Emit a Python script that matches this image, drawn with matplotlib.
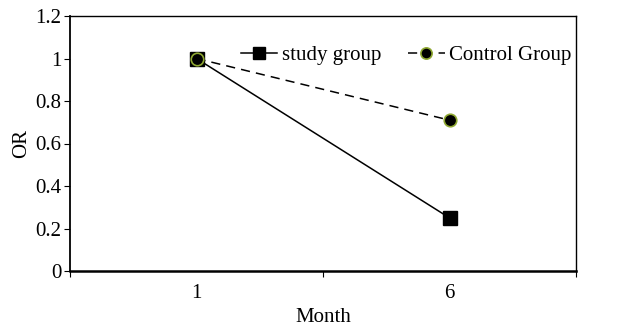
import matplotlib.pyplot as plt
import numpy as np

months = ["1", "6"]
study = [1.0, 0.25]
control = [1.0, 0.71]

plt.rcParams['font.family'] = ['Liberation Serif', 'DejaVu Serif']
plt.rcParams['font.size'] = 15

fig = plt.figure(figsize=(6.19, 3.28), dpi=100)
ax = fig.add_axes([70/619, 1 - 271/328, 506/619, 255/328])

x = np.arange(len(months)) + 0.5
ax.plot(x, study, color='black', lw=1.1, marker='s', ms=10,
        mfc='black', mec='black', label='study group')
ax.plot(x, control, color='black', lw=1.1, ls=(0, (6, 4)), marker='o', ms=9,
        mfc='black', mec='#8fa832', mew=1.2, label='Control Group')

ax.set_xlim(0, 2)
ax.set_ylim(0, 1.2)
ax.set_xticks([0, 1, 2])
ax.set_xticklabels([])
ax.set_xticks(x, minor=True)
ax.set_xticklabels(months, minor=True)
ax.tick_params(axis='x', which='minor', length=0, pad=9)
ax.tick_params(axis='x', which='major', direction='out', length=4)
ax.set_yticks([0, 0.2, 0.4, 0.6, 0.8, 1.0, 1.2])
ax.set_yticklabels(['0', '0.2', '0.4', '0.6', '0.8', '1', '1.2'])
ax.tick_params(axis='y', direction='out', length=4, pad=2)
for s in ax.spines.values():
    s.set_linewidth(1.0)
ax.spines['bottom'].set_linewidth(1.8)
ax.spines['left'].set_linewidth(1.3)

ax.set_xlabel('Month', labelpad=4)
ax.set_ylabel('OR', labelpad=3)

leg = ax.legend(ncol=2, frameon=False, loc='center left', bbox_to_anchor=(0.338, 0.847),
                borderpad=0, borderaxespad=0, markerscale=0.9,
                handlelength=1.75, columnspacing=1.3, handletextpad=0.2)

fig.savefig('out.png', dpi=100)
